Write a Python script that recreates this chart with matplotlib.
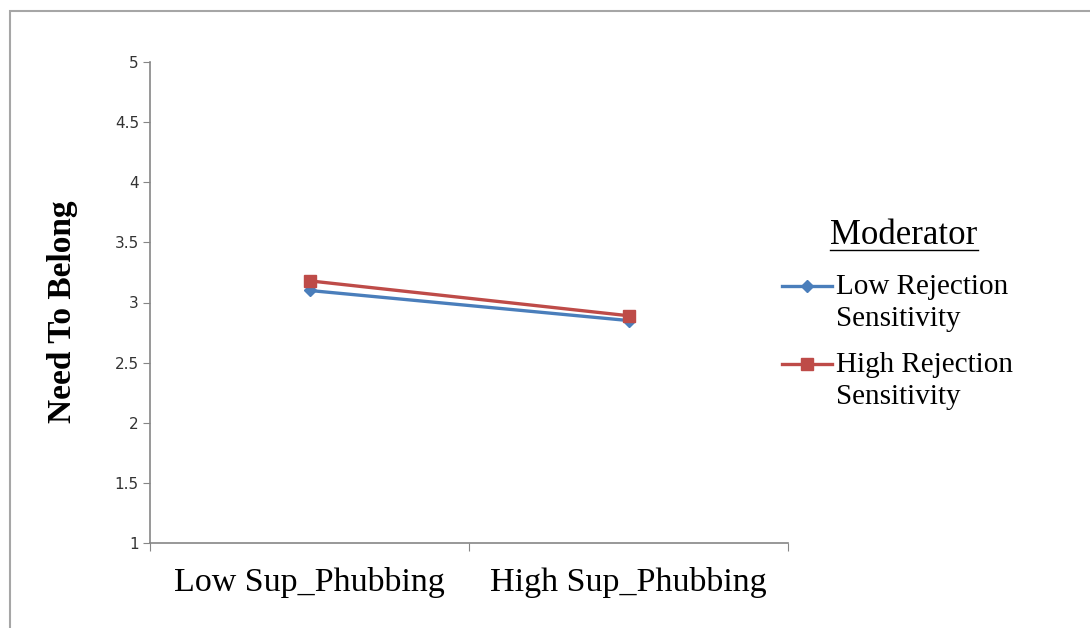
import numpy as np
import matplotlib.pyplot as plt
from matplotlib.lines import Line2D
from matplotlib.patches import Rectangle

categories = ['Low Sup_Phubbing', 'High Sup_Phubbing']
low_rs = [3.10, 2.85]
high_rs = [3.18, 2.89]
series_names = ['Low Rejection\nSensitivity', 'High Rejection\nSensitivity']
yticks = [1, 1.5, 2, 2.5, 3, 3.5, 4, 4.5, 5]
colors = ['#4a7ebb', '#be4b48']
markers = ['D', 's']
msizes = [6, 8]

W, H = 1090, 628
fig = plt.figure(figsize=(W / 100, H / 100), dpi=100)
fig.patches.append(Rectangle((10 / W, -0.01), 1.1, 1 - 11 / H + 0.01,
                             transform=fig.transFigure, fill=False,
                             edgecolor='#a6a6a6', linewidth=1.5))
ax = fig.add_axes([150 / W, 1 - 543 / H, 638 / W, 481 / H])

x = np.arange(len(categories))
for vals, c, m, ms in zip([low_rs, high_rs], colors, markers, msizes):
    ax.plot(x, vals, color=c, lw=2.4, marker=m, ms=ms)

ax.set_xlim(-0.5, 1.5)
ax.set_ylim(1, 5)
ax.set_yticks(yticks)
ax.set_yticklabels(['%g' % t for t in yticks], fontsize=11, family='DejaVu Sans', color='#333333')
ax.tick_params(axis='y', direction='out', length=5, color='#868686', pad=3)

ax.set_xticks([-0.5, 0.5, 1.5])
ax.set_xticklabels([])
ax.tick_params(axis='x', which='major', direction='out', length=6, color='#868686')
ax.set_xticks(x, minor=True)
ax.set_xticklabels(categories, minor=True, fontsize=24.5, family='Liberation Serif')
ax.tick_params(axis='x', which='minor', length=0, pad=17)

for s in ['top', 'right']:
    ax.spines[s].set_visible(False)
for s in ['left', 'bottom']:
    ax.spines[s].set_color('#868686')
    ax.spines[s].set_linewidth(1.2)

ax.set_ylabel('Need To Belong', fontsize=24, family='Liberation Serif', fontweight='bold')
ax.yaxis.set_label_coords((78 - 150) / 638, (543 - 311.5) / 481)

# legend drawn by hand so the marker sits on the first text line
def fx(px):
    return px / W

def fy(py):
    return 1 - py / H

t = fig.text(fx(904), fy(236), 'Moderator', ha='center', va='center',
             family='Liberation Serif', fontsize=25)
fig.canvas.draw()
bb = t.get_window_extent().transformed(fig.transFigure.inverted())
fig.add_artist(Line2D([bb.x0, bb.x1], [bb.y0 + 0.004, bb.y0 + 0.004],
                      transform=fig.transFigure, color='black', lw=1))

for i, (name, c, m, ms) in enumerate(zip(series_names, colors, markers, msizes)):
    yc = 286 + 78 * i
    fig.add_artist(Line2D([fx(782), fx(832)], [fy(yc), fy(yc)], transform=fig.transFigure,
                          color=c, lw=2.4))
    fig.add_artist(Line2D([fx(807)], [fy(yc)], transform=fig.transFigure,
                          color=c, marker=m, ms=ms, lw=0))
    fig.text(fx(836), fy(yc - 12), name, ha='left', va='top', linespacing=1.3,
             family='Liberation Serif', fontsize=21)

fig.savefig('out.png', dpi=100)
